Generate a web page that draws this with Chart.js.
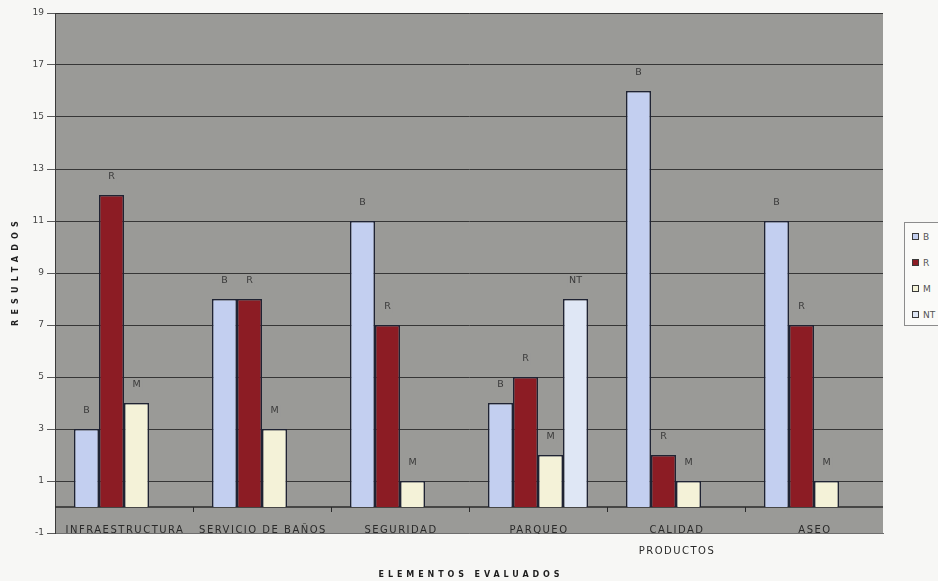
<!DOCTYPE html>
<html>
<head>
<meta charset="utf-8">
<script src="https://cdn.jsdelivr.net/npm/chart.js@4/dist/chart.umd.min.js"></script>
<style>
  html, body { margin: 0; padding: 0; background: #f7f7f5; }
  #wrap { position: relative; width: 938px; height: 581px; overflow: hidden; }
  #legend { position: absolute; left: 904px; top: 222px; width: 60px; height: 102px;
            border: 1px solid #8c8c8c; background: #fafaf8;
            font: 9px "DejaVu Sans", sans-serif; color: #555; }
  .item { position: absolute; left: 7px; height: 10px; line-height: 10px; white-space: nowrap; }
  .sw { display: inline-block; width: 5px; height: 5px; border: 1.5px solid #3a3a3a;
        vertical-align: middle; margin-right: 4px; margin-top: -2px; }
</style>
</head>
<body>
<div id="wrap">
  <canvas id="chart" width="938" height="581"></canvas>
  <div id="legend"></div>
</div>
<script>
// Evaluated elements and the count of each rating
const categories = ['INFRAESTRUCTURA', 'SERVICIO DE BAÑOS', 'SEGURIDAD', 'PARQUEO', ['CALIDAD', 'PRODUCTOS'], 'ASEO'];
const seriesNames = ['B', 'R', 'M', 'NT'];
const valuesB  = [3, 8, 11, 4, 16, 11];
const valuesR  = [12, 8, 7, 5, 2, 7];
const valuesM  = [4, 3, 1, 2, 1, 1];
const valuesNT = [null, null, null, 8, null, null];
const yTicks = [-1, 1, 3, 5, 7, 9, 11, 13, 15, 17, 19];
const xTitle = 'ELEMENTOS EVALUADOS';
const yTitle = 'RESULTADOS';

const seriesColors = ['#c3cff0', '#8c1c24', '#f4f2d8', '#dfe7f5'];
const plotGray = '#9a9a97';
const seriesValues = [valuesB, valuesR, valuesM, valuesNT];

const datasets = seriesNames.map((name, i) => ({
  label: name,
  data: seriesValues[i],
  backgroundColor: seriesColors[i],
  borderColor: '#1f2333',
  borderWidth: 1.5,
  categoryPercentage: 0.725,
  barPercentage: 1.0
}));

// Plot background, zero axis line, category names, labels above bars and axis titles
const decor = {
  id: 'decor',
  beforeDraw(chart) {
    const { ctx, chartArea: a } = chart;
    ctx.save();
    ctx.fillStyle = plotGray;
    ctx.fillRect(a.left, a.top, a.right - a.left, a.bottom - a.top);
    ctx.restore();
  },
  beforeDatasetsDraw(chart) {
    const { ctx, chartArea: a, scales } = chart;
    const y0 = scales.y.getPixelForValue(0);
    ctx.save();
    ctx.strokeStyle = '#2a2a2a';
    ctx.lineWidth = 1.5;
    ctx.beginPath();
    ctx.moveTo(a.left, y0);
    ctx.lineTo(a.right, y0);
    ctx.stroke();
    ctx.lineWidth = 1;
    for (let i = 1; i < categories.length; i++) {
      const x = Math.round(scales.x.getPixelForValue(i - 0.5)) + 0.5;
      ctx.beginPath();
      ctx.moveTo(x, y0);
      ctx.lineTo(x, y0 + 5);
      ctx.stroke();
    }
    // category names sit in the band between 0 and -1, extra lines below the plot
    ctx.font = '10px "DejaVu Sans"';
    ctx.fillStyle = '#2a2a2a';
    ctx.textAlign = 'center';
    ctx.textBaseline = 'middle';
    ctx.letterSpacing = '1.5px';
    const yLab = (y0 + a.bottom) / 2 + 10;
    categories.forEach((cat, i) => {
      const x = scales.x.getPixelForValue(i) + 1;
      const lines = Array.isArray(cat) ? cat : [cat];
      lines.forEach((ln, j) => ctx.fillText(ln, x, yLab + j * 21));
    });
    ctx.restore();
  },
  afterDatasetsDraw(chart) {
    const { ctx } = chart;
    ctx.save();
    ctx.font = '9.5px "DejaVu Sans"';
    ctx.textAlign = 'center';
    ctx.textBaseline = 'middle';
    chart.data.datasets.forEach((ds, di) => {
      const meta = chart.getDatasetMeta(di);
      meta.data.forEach((bar, i) => {
        const v = ds.data[i];
        if (v === null || v === 0) return;
        const ty = bar.y - 18;
        const w = ctx.measureText(ds.label).width;
        ctx.fillStyle = plotGray;
        ctx.fillRect(bar.x - w / 2 - 2, ty - 6, w + 4, 12);
        ctx.fillStyle = '#3a3a3a';
        ctx.fillText(ds.label, bar.x, ty);
      });
    });
    ctx.restore();
  },
  afterDraw(chart) {
    const { ctx, chartArea: a } = chart;
    ctx.save();
    ctx.fillStyle = '#1e1e1e';
    ctx.textAlign = 'center';
    ctx.textBaseline = 'middle';
    ctx.font = 'bold 8px "DejaVu Sans"';
    ctx.letterSpacing = '3.9px';
    ctx.fillText(xTitle, (a.left + a.right) / 2 + 2, 575);
    ctx.translate(16, (a.top + a.bottom) / 2);
    ctx.rotate(-Math.PI / 2);
    ctx.letterSpacing = '5.2px';
    ctx.fillText(yTitle, 2, 0);
    ctx.restore();
  }
};

new Chart(document.getElementById('chart'), {
  type: 'bar',
  data: { labels: categories, datasets },
  options: {
    responsive: false,
    animation: false,
    devicePixelRatio: 1,
    layout: { padding: { left: 0, top: 13, right: 55, bottom: 0 } },
    plugins: { legend: { display: false }, tooltip: { enabled: false } },
    scales: {
      x: {
        grid: { display: false, drawTicks: false },
        border: { display: true, color: '#6e6e6e', width: 1 },
        ticks: { display: false },
        afterFit(s) { s.height = 48; }
      },
      y: {
        min: -1, max: 19,
        afterBuildTicks(s) { s.ticks = yTicks.map(v => ({ value: v })); },
        ticks: { color: '#444', padding: 3, font: { size: 9, family: '"DejaVu Sans"' } },
        grid: {
          color: ctx => (ctx.tick && ctx.tick.value === -1) ? '#7a7a7a' : '#363636',
          lineWidth: 1, tickLength: 8, tickColor: '#5a5a5a'
        },
        border: { color: '#3a3a3a', width: 1 },
        afterFit(s) { s.width = 55; }
      }
    }
  },
  plugins: [decor]
});

// Series key at the right edge
const legend = document.getElementById('legend');
seriesNames.forEach((name, i) => {
  const item = document.createElement('div');
  item.className = 'item';
  item.style.top = (9 + i * 26) + 'px';
  const sw = document.createElement('span');
  sw.className = 'sw';
  sw.style.background = seriesColors[i];
  item.appendChild(sw);
  item.appendChild(document.createTextNode(name));
  legend.appendChild(item);
});
</script>
</body>
</html>
